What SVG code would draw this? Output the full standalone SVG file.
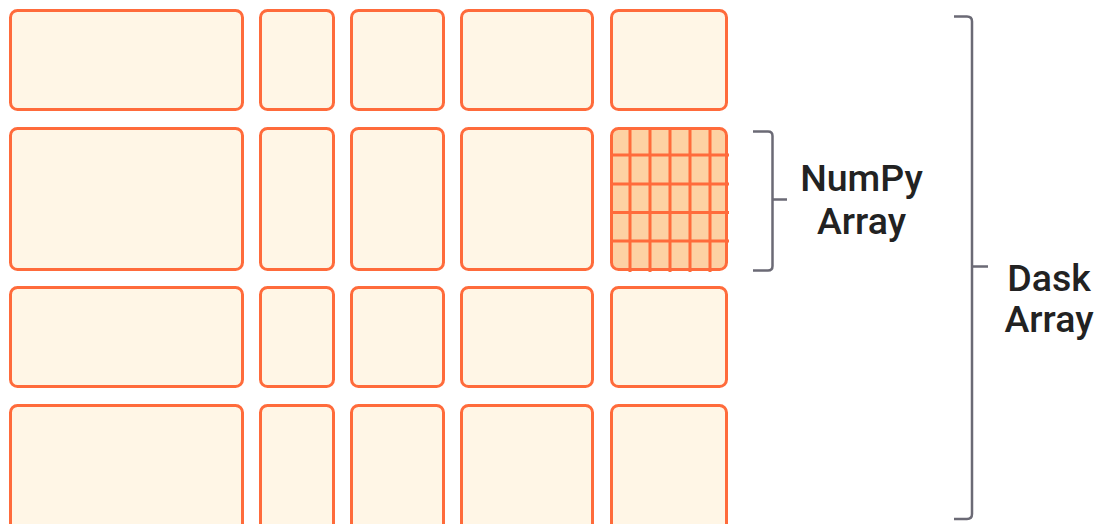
<svg xmlns="http://www.w3.org/2000/svg" width="1099" height="524" viewBox="0 0 1099 524">
<style>
.c{fill:#FFF6E6;stroke:#FF6B3B;stroke-width:3}
.g{fill:#FDD1A3;stroke:#FF6B3B;stroke-width:3}
.gl{stroke:#FF6B3B;stroke-width:3;fill:none}
.b{fill:none;stroke:#6B6A75;stroke-width:2.5;stroke-linecap:butt}
.t{font-family:Roboto,"Liberation Sans",sans-serif;font-weight:500;font-size:37.5px;fill:#222222;text-anchor:middle}
</style>
<rect width="1099" height="524" fill="#FFFFFF"/>
<g id="row1">
<rect class="c" x="10.5" y="10.5" width="232" height="99" rx="7"/>
<rect class="c" x="260.5" y="10.5" width="73" height="99" rx="7"/>
<rect class="c" x="351.5" y="10.5" width="92" height="99" rx="7"/>
<rect class="c" x="461.5" y="10.5" width="131" height="99" rx="7"/>
<rect class="c" x="611.5" y="10.5" width="115" height="99" rx="7"/>
</g>
<g id="row2">
<rect class="c" x="10.5" y="128.5" width="232" height="141" rx="7"/>
<rect class="c" x="260.5" y="128.5" width="73" height="141" rx="7"/>
<rect class="c" x="351.5" y="128.5" width="92" height="141" rx="7"/>
<rect class="c" x="461.5" y="128.5" width="131" height="141" rx="7"/>
</g>
<g id="numpy-chunk">
<rect class="g" x="611.5" y="128.5" width="115" height="141" rx="7"/>
<path class="gl" d="M630 128V272M650 128V272M670 128V272M690 128V272M710 128V272M611 155H729M611 184H729M611 212.5H729M611 241H729"/>
</g>
<g id="row3">
<rect class="c" x="10.5" y="287.5" width="232" height="99" rx="7"/>
<rect class="c" x="260.5" y="287.5" width="73" height="99" rx="7"/>
<rect class="c" x="351.5" y="287.5" width="92" height="99" rx="7"/>
<rect class="c" x="461.5" y="287.5" width="131" height="99" rx="7"/>
<rect class="c" x="611.5" y="287.5" width="115" height="99" rx="7"/>
</g>
<g id="row4">
<rect class="c" x="10.5" y="405.5" width="232" height="130" rx="7"/>
<rect class="c" x="260.5" y="405.5" width="73" height="130" rx="7"/>
<rect class="c" x="351.5" y="405.5" width="92" height="130" rx="7"/>
<rect class="c" x="461.5" y="405.5" width="131" height="130" rx="7"/>
<rect class="c" x="611.5" y="405.5" width="115" height="130" rx="7"/>
</g>
<g id="connectors">
<path class="b" d="M753 131.5H768Q772.5 131.5 772.5 136V266Q772.5 270.5 768 270.5H753M772.5 199.5H787"/>
<path class="b" d="M954 16.5H967Q972 16.5 972 21.5V514Q972 519 967 519H954M972 266.5H988"/>
</g>
<g id="numpy-label">
<text class="t" x="861.5" y="190.5">NumPy</text>
<text class="t" x="861.5" y="234">Array</text>
</g>
<g id="dask-label">
<text class="t" x="1049" y="290.5">Dask</text>
<text class="t" x="1049" y="331.5">Array</text>
</g>
</svg>
